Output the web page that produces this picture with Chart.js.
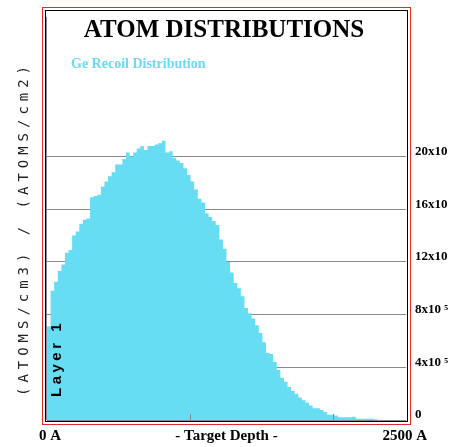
<!DOCTYPE html>
<html>
<head>
<meta charset="utf-8">
<title>Atom Distributions</title>
<script src="https://cdn.jsdelivr.net/npm/chart.js@4/dist/chart.umd.min.js"></script>
<style>
  html, body { margin: 0; padding: 0; background: #fff; }
  canvas { display: block; }
</style>
</head>
<body>
<canvas id="atoms" width="449" height="447"></canvas>
<script>
// Ge recoil profile, 25 A bins over 0..2500 A
// values in units of 1e5 (atoms/cm3)/(atoms/cm2)
const BIN = 25;
const DEPTH_MAX = 2500;
const geRecoil = [
  6.2, 7.1, 9.8, 10.5, 11.3, 11.8, 12.7, 12.9, 14.0, 14.3,
  14.9, 15.2, 15.3, 16.9, 17.0, 17.1, 17.7, 18.1, 18.5, 18.8,
  19.4, 19.4, 19.8, 20.3, 20.0, 20.3, 20.6, 20.8, 20.5, 20.8,
  20.8, 20.9, 21.0, 21.2, 20.3, 20.4, 19.9, 19.7, 19.5, 19.1,
  18.6, 18.1, 17.5, 16.8, 16.5, 15.7, 15.4, 15.1, 14.8, 13.7,
  13.0, 12.0, 11.2, 10.4, 10.0, 9.4, 8.5, 8.1, 7.7, 7.2,
  6.6, 5.9, 5.1, 5.0, 4.4, 3.8, 3.2, 2.9, 2.5, 2.2,
  2.0, 1.7, 1.5, 1.3, 1.1, 0.9, 0.9, 0.75, 0.6, 0.4,
  0.4, 0.35, 0.2, 0.2, 0.2, 0.2, 0.25, 0.1, 0.1, 0.1,
  0.1, 0.1, 0.05, 0, 0, 0, 0, 0, 0, 0
];
const yTicks = [0, 4, 8, 12, 16, 20];
const yTickLabels = ['0', '4x10 \u2075', '8x10 \u2075', '12x10 \u2075', '16x10 \u2075', '20x10 \u2075'];
const depthTicks = [0, 1000, 2000];
const yTitle = '(ATOMS/cm3) / (ATOMS/cm2)';
const layerName = 'Layer 1';

// step outline: one point per bin start, closed at the last edge
const points = geRecoil.map((v, i) => ({ x: i * BIN, y: v }));
points.push({ x: DEPTH_MAX, y: geRecoil[geRecoil.length - 1] });

const SERIF = '"Liberation Serif", "Times New Roman", serif';

const decor = {
  id: 'decor',
  beforeDraw(chart) {
    const ctx = chart.ctx;
    ctx.save();
    ctx.fillStyle = '#fff';
    ctx.fillRect(0, 0, chart.width, chart.height);
    ctx.restore();
  },
  afterDraw(chart) {
    const { ctx, chartArea: a } = chart;
    const x = chart.scales.x;
    ctx.save();

    // double frame
    ctx.lineWidth = 1;
    ctx.strokeStyle = '#e8262b';
    ctx.strokeRect(42.5, 7.5, 368, 417);
    ctx.strokeStyle = '#000';
    ctx.strokeRect(45.5, 10.5, 362, 411);

    // left axis line and inward depth ticks
    ctx.strokeStyle = '#8a8a8a';
    ctx.beginPath();
    ctx.moveTo(a.left - 0.5, a.top);
    ctx.lineTo(a.left - 0.5, a.bottom);
    depthTicks.forEach(d => {
      const px = Math.round(x.getPixelForValue(d)) - 0.5;
      ctx.moveTo(px, a.bottom);
      ctx.lineTo(px, a.bottom - 6);
    });
    ctx.stroke();

    // heading
    ctx.fillStyle = '#000';
    ctx.textAlign = 'center';
    ctx.textBaseline = 'alphabetic';
    ctx.font = 'bold 25px ' + SERIF;
    ctx.fillText('ATOM DISTRIBUTIONS', 224, 37);

    // series name
    const ds = chart.data.datasets[0];
    ctx.textAlign = 'left';
    ctx.font = 'bold 14px ' + SERIF;
    ctx.fillStyle = ds.backgroundColor;
    ctx.fillText(ds.label, 71, 68);

    // depth labels under the plot
    ctx.fillStyle = '#000';
    ctx.font = 'bold 15px ' + SERIF;
    ctx.fillText('0 A', x.getPixelForValue(0) - 8, 440);
    ctx.textAlign = 'center';
    ctx.fillText('- Target Depth -', (a.left + a.right) / 2, 440);
    ctx.textAlign = 'right';
    ctx.fillText('2500 A', x.getPixelForValue(DEPTH_MAX) + 21, 440);

    // rotated unit title, spaced monospace
    ctx.save();
    ctx.translate(24, 231);
    ctx.rotate(-Math.PI / 2);
    ctx.font = '14px "DejaVu Sans Mono", monospace';
    ctx.fillStyle = '#222';
    ctx.textAlign = 'center';
    ctx.textBaseline = 'middle';
    const pitch = 13.4;
    const mid = (yTitle.length - 1) / 2;
    [...yTitle].forEach((c, k) => ctx.fillText(c, (k - mid) * pitch, 0));
    ctx.restore();

    // layer name inside the plot
    ctx.save();
    ctx.translate(61, 397);
    ctx.rotate(-Math.PI / 2);
    ctx.font = 'bold 15px "Liberation Sans", Arial, sans-serif';
    ctx.fillStyle = '#000';
    ctx.textAlign = 'left';
    ctx.textBaseline = 'alphabetic';
    let off = 0;
    [...layerName].forEach(c => {
      ctx.fillText(c, off, 0);
      off += ctx.measureText(c).width + 3.5;
    });
    ctx.restore();

    ctx.restore();
  }
};

new Chart(document.getElementById('atoms'), {
  type: 'line',
  data: {
    datasets: [{
      label: 'Ge Recoil Distribution',
      data: points,
      stepped: 'after',
      fill: 'origin',
      backgroundColor: '#66ddf2',
      borderWidth: 0,
      pointRadius: 0
    }]
  },
  options: {
    responsive: false,
    animation: false,
    devicePixelRatio: 1,
    layout: { padding: { left: 47, top: 12, right: 0, bottom: 27 } },
    plugins: {
      legend: { display: false },
      tooltip: { enabled: false }
    },
    scales: {
      x: {
        type: 'linear',
        min: 0,
        max: DEPTH_MAX,
        display: false
      },
      y: {
        position: 'right',
        min: 0,
        max: 30.6,
        z: 1,
        afterBuildTicks: s => { s.ticks = yTicks.map(v => ({ value: v })); },
        afterFit: s => { s.width = 43; },
        border: { display: false },
        grid: { color: '#8a8a8a', lineWidth: 1, drawTicks: false },
        ticks: {
          padding: 9,
          labelOffset: -5,
          color: '#000',
          font: { family: SERIF, size: 13, weight: 'bold' },
          callback: v => yTickLabels[yTicks.indexOf(v)]
        }
      }
    }
  },
  plugins: [decor]
});
</script>
</body>
</html>
